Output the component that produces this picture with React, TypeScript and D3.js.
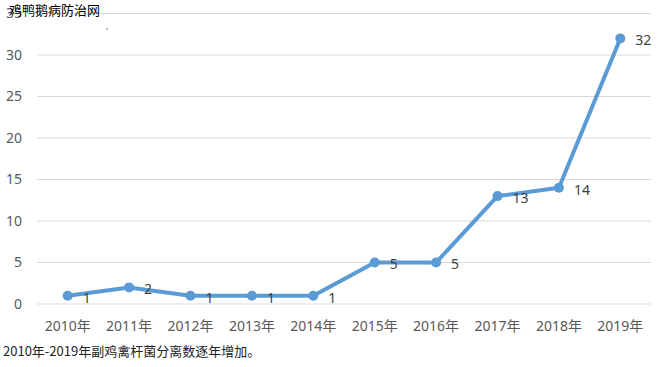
import { useEffect, useRef } from 'react';
import * as d3 from 'd3';

const years = ['2010年', '2011年', '2012年', '2013年', '2014年', '2015年', '2016年', '2017年', '2018年', '2019年'];
const counts = [1, 2, 1, 1, 1, 5, 5, 13, 14, 32];
const yTicks = [0, 5, 10, 15, 20, 25, 30, 35];

const W = 663;
const H = 367;
const FONT = '"Noto Sans", "Noto Sans CJK SC", sans-serif';

export default function App() {
  const svgRef = useRef<SVGSVGElement>(null);

  useEffect(() => {
    if (!svgRef.current) return;
    const svg = d3.select(svgRef.current);
    svg.selectAll('*').remove();

    const x = d3.scaleBand<string>().domain(years).range([37, 651]);
    const y = d3.scaleLinear().domain([0, 35]).range([304, 13.5]);
    const cx = (d: string) => (x(d) ?? 0) + x.bandwidth() / 2;

    // grid
    svg.append('g')
      .selectAll('line')
      .data(yTicks)
      .join('line')
      .attr('x1', 37)
      .attr('x2', 651)
      .attr('y1', (d) => y(d))
      .attr('y2', (d) => y(d))
      .attr('stroke', '#d9d9d9')
      .attr('stroke-width', 1);

    svg.append('g')
      .selectAll('text')
      .data(yTicks)
      .join('text')
      .attr('x', 22)
      .attr('y', (d) => y(d))
      .attr('dy', '0.35em')
      .attr('text-anchor', 'end')
      .attr('fill', '#595959')
      .style('font-size', '14px')
      .style('font-family', FONT)
      .text((d) => d);

    svg.append('g')
      .selectAll('text')
      .data(years)
      .join('text')
      .attr('x', (d) => cx(d))
      .attr('y', 326)
      .attr('dy', '0.35em')
      .attr('text-anchor', 'middle')
      .attr('fill', '#595959')
      .style('font-size', '14px')
      .style('font-family', FONT)
      .text((d) => d);

    const line = d3
      .line<number>()
      .x((_, i) => cx(years[i]))
      .y((d) => y(d));

    svg.append('path')
      .datum(counts)
      .attr('d', line)
      .attr('fill', 'none')
      .attr('stroke', '#5b9bd5')
      .attr('stroke-width', 4)
      .attr('stroke-linejoin', 'round');

    svg.append('g')
      .selectAll('circle')
      .data(counts)
      .join('circle')
      .attr('cx', (_, i) => cx(years[i]))
      .attr('cy', (d) => y(d))
      .attr('r', 5)
      .attr('fill', '#5b9bd5');

    svg.append('g')
      .selectAll('text')
      .data(counts)
      .join('text')
      .attr('x', (_, i) => cx(years[i]) + 15)
      .attr('y', (d) => y(d) + 2)
      .attr('dy', '0.35em')
      .attr('fill', '#404040')
      .style('font-size', '14px')
      .style('font-family', FONT)
      .text((d) => d);

    // watermark + caption
    svg.append('text')
      .attr('x', 9)
      .attr('y', 15)
      .attr('fill', '#000')
      .style('font-size', '13px')
      .style('font-family', '"Noto Sans CJK SC", sans-serif')
      .text('鸡鸭鹅病防治网');
    svg.append('circle').attr('cx', 107).attr('cy', 29).attr('r', 0.8).attr('fill', '#555');

    svg.append('text')
      .attr('x', 3)
      .attr('y', 356)
      .attr('fill', '#222')
      .style('font-size', '13px')
      .style('font-family', '"Noto Sans CJK SC", sans-serif')
      .text('2010年-2019年副鸡禽杆菌分离数逐年增加。');
  }, []);

  return (
    <svg
      ref={svgRef}
      width={W}
      height={H}
      style={{ position: 'absolute', left: 0, top: 0, background: '#fff' }}
    />
  );
}
